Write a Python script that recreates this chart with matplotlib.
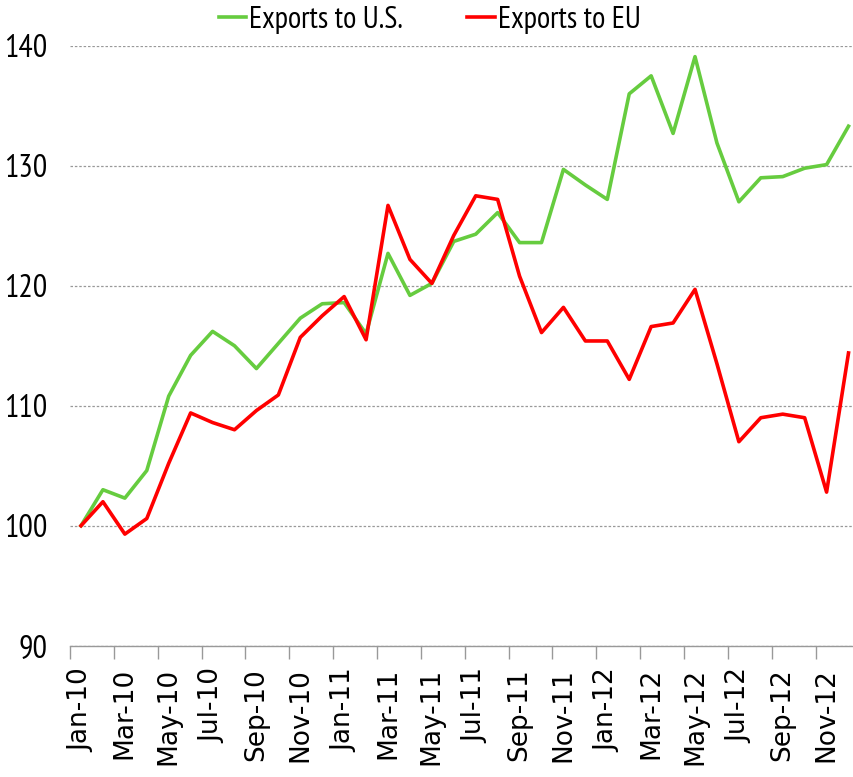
import matplotlib.pyplot as plt

months = ['Jan', 'Feb', 'Mar', 'Apr', 'May', 'Jun', 'Jul', 'Aug', 'Sep', 'Oct', 'Nov', 'Dec']
years = ['10', '11', '12']
labels = [m + '-' + y for y in years for m in months]

exports_us = [100.0, 103.0, 102.3, 104.6, 110.8, 114.2, 116.2, 115.0, 113.1, 115.2, 117.3, 118.5,
              118.6, 116.0, 122.7, 119.2, 120.2, 123.7, 124.3, 126.1, 123.6, 123.6, 129.7, 128.4,
              127.2, 136.0, 137.5, 132.7, 139.1, 131.9, 127.0, 129.0, 129.1, 129.8, 130.1, 133.3]
exports_eu = [100.0, 102.0, 99.3, 100.6, 105.2, 109.4, 108.6, 108.0, 109.6, 110.9, 115.7, 117.5,
              119.1, 115.5, 126.7, 122.2, 120.2, 124.2, 127.5, 127.2, 120.8, 116.1, 118.2, 115.4,
              115.4, 112.2, 116.6, 116.9, 119.7, 113.5, 107.0, 109.0, 109.3, 109.0, 102.8, 114.4]

narrow = ['PT Sans Narrow', 'DejaVu Sans']

fig = plt.figure(figsize=(8.54, 7.77), dpi=100)
ax = fig.add_axes([0.082, 0.169, 0.918, 0.772])

x = list(range(len(labels)))
ax.plot(x, exports_us, color='#66CC3F', lw=2.6, label='Exports to U.S.')
ax.plot(x, exports_eu, color='#FF0000', lw=2.6, label='Exports to EU')

ax.set_ylim(90, 140)
ax.set_xlim(-0.5, 35.25)
ax.set_yticks([90, 100, 110, 120, 130, 140])
ax.yaxis.grid(True, linestyle=(0, (2, 1.5)), color='#999999', lw=0.9)
ax.set_axisbelow(True)

ax.set_xticks(x[::2])
ax.set_xticklabels(labels[::2], rotation=90, fontsize=19, color='black')
ax.set_xticks([i - 0.5 for i in range(0, 36, 2)], minor=True)
ax.tick_params(axis='x', which='major', length=0, pad=16)
ax.tick_params(axis='x', which='minor', length=9, color='#999999', width=1)
ax.tick_params(axis='y', length=0, pad=16)
for t in ax.get_yticklabels():
    t.set_family(narrow)
    t.set_fontsize(23)

for s in ['top', 'right', 'left']:
    ax.spines[s].set_visible(False)
ax.spines['bottom'].set_color('#999999')
ax.spines['bottom'].set_linewidth(1)

fig.legend(loc='upper center', bbox_to_anchor=(0.503, 1.028), ncol=2, frameon=False,
           handlelength=0.9, handletextpad=0.1, columnspacing=2.1,
           prop={'family': narrow, 'size': 22})

fig.savefig('out.png', dpi=100)
